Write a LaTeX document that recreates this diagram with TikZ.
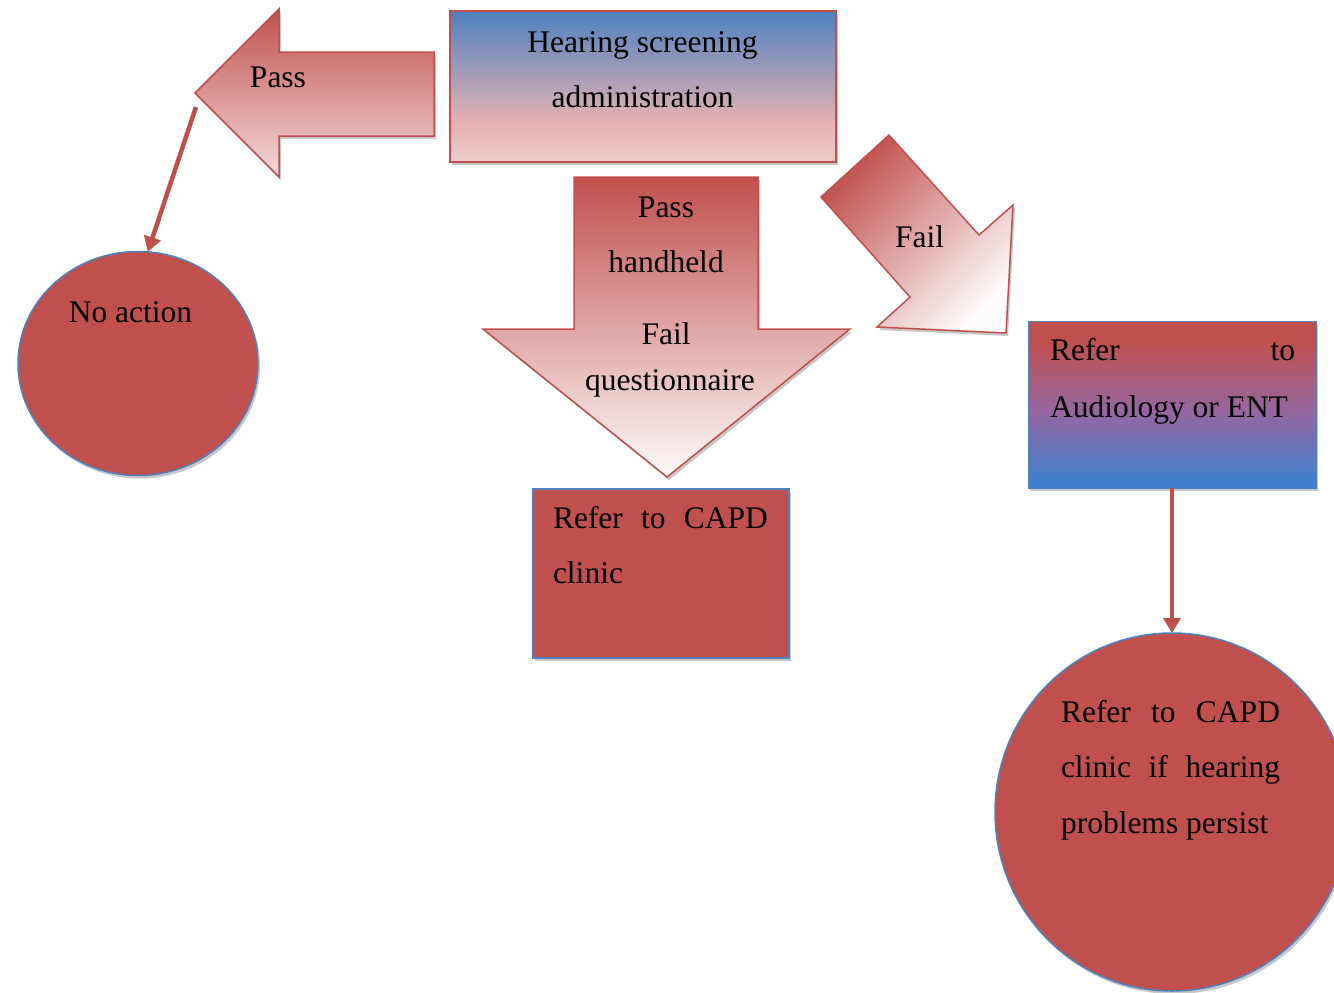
\documentclass[tikz,border=0pt]{standalone}
\usepackage{fontspec}
\setmainfont{Liberation Serif}
\usetikzlibrary{shapes.geometric,shadows,arrows.meta}

\definecolor{accred}{RGB}{192,80,77}
\definecolor{accblue}{RGB}{79,129,189}
\definecolor{topblue}{RGB}{79,129,191}
\definecolor{pinkA}{RGB}{229,178,178}
\definecolor{pinkB}{RGB}{238,205,204}
\definecolor{deepblue}{RGB}{64,128,204}
\definecolor{purp}{RGB}{150,102,160}
\definecolor{paleA}{RGB}{243,218,218}
\definecolor{nearwhite}{RGB}{253,251,251}

\pgfdeclareverticalshading{hearshade}{100bp}{color(0bp)=(pinkB); color(25bp)=(pinkB); color(38bp)=(pinkA); color(75bp)=(topblue); color(100bp)=(topblue)}
\pgfdeclareverticalshading{audshade}{100bp}{color(0bp)=(deepblue); color(27bp)=(deepblue); color(48bp)=(purp); color(69bp)=(accred); color(100bp)=(accred)}

\tikzset{
  every node/.style={font=\fontsize{31.5}{55}\selectfont, inner sep=0pt, outer sep=0pt},
  softshadow/.style={drop shadow={shadow xshift=2pt, shadow yshift=-3pt, fill=black!22, opacity=1}},
  redblock/.style={draw=accred, line width=1.5pt, softshadow},
  bluerim/.style={draw=accblue, line width=1.5pt, softshadow},
  link/.style={draw=accred, line width=4.5pt, -{Triangle[width=17pt,length=15pt]}},
  lbl/.style={anchor=base},
  lblw/.style={anchor=base west},
}

\begin{document}
\begin{tikzpicture}[x=1pt, y=-1pt]
  \fill[white] (0,0) rectangle (1334,993);
  \useasboundingbox (0,0) rectangle (1334,993);

  % screening box
  \node[rectangle, redblock, shade, shading=hearshade, minimum width=386pt, minimum height=151pt] (screen) at (643,86.5) {};
  \node[lbl] (screen1) at (642.5,52) {Hearing screening};
  \node[lbl] (screen2) at (642.5,107) {administration};

  % left block arrow: pass
  \path[redblock, top color=accred, bottom color=paleA]
    (195,93) -- (279,9) -- (279,52) -- (434,52) -- (434,136) -- (279,136) -- (279,177) -- cycle;
  \node[lbl] (passleft) at (278,87) {Pass};
  \coordinate (passtail) at (196,107);

  % down block arrow
  \path[redblock, top color=accred, bottom color=nearwhite]
    (574,177) -- (758,177) -- (758,329) -- (850,329) -- (667,477) -- (483,329) -- (574,329) -- cycle;
  \node[lbl] (mid1) at (666,217) {Pass};
  \node[lbl] (mid2) at (666,272) {handheld};
  \node[lbl] (mid3) at (666,344) {Fail};
  \node[lbl] (mid4) at (670,390) {questionnaire};

  % diagonal block arrow: fail
  \path[redblock, top color=accred, bottom color=nearwhite, shading angle=45]
    (821,197) -- (889,135) -- (979,235) -- (1013,205) -- (1006,333) -- (877,327) -- (910,297) -- cycle;
  \node[lbl] (faildiag) at (919.5,247) {Fail};

  % no action
  \node[ellipse, bluerim, fill=accred, minimum width=240pt, minimum height=224pt] (noaction) at (138,363.5) {};
  \node[lbl] (noactiontxt) at (130.5,322) {No action};

  % refer to CAPD clinic
  \node[rectangle, bluerim, fill=accred, minimum width=256pt, minimum height=169pt] (capd) at (661,573.5) {};
  \node[lblw] (capd1) at (553,528) {\makebox[215pt][s]{Refer to CAPD}};
  \node[lblw] (capd2) at (553,583) {clinic};

  % refer to audiology
  \node[rectangle, draw=accblue, line width=1pt, softshadow, shade, shading=audshade, minimum width=288pt, minimum height=167pt] (audio) at (1172,404.5) {};
  \node[lblw] (audio1) at (1050,360) {\makebox[245pt]{Refer\hfill to}};
  \node[lblw] (audio2) at (1050,417) {Audiology or ENT};

  % persist circle
  \node[ellipse, bluerim, fill=accred, minimum width=354pt, minimum height=358pt] (persist) at (1172,812) {};
  \node[lblw] (persist1) at (1061,722) {\makebox[219pt][s]{Refer to CAPD}};
  \node[lblw] (persist2) at (1061,777) {\makebox[219pt][s]{clinic if hearing}};
  \node[lblw] (persist3) at (1061,833) {problems persist};

  % connectors
  \draw[link] (passtail) -- (noaction.85);
  \draw[link] (audio.south) -- (persist.north);
\end{tikzpicture}
\end{document}
